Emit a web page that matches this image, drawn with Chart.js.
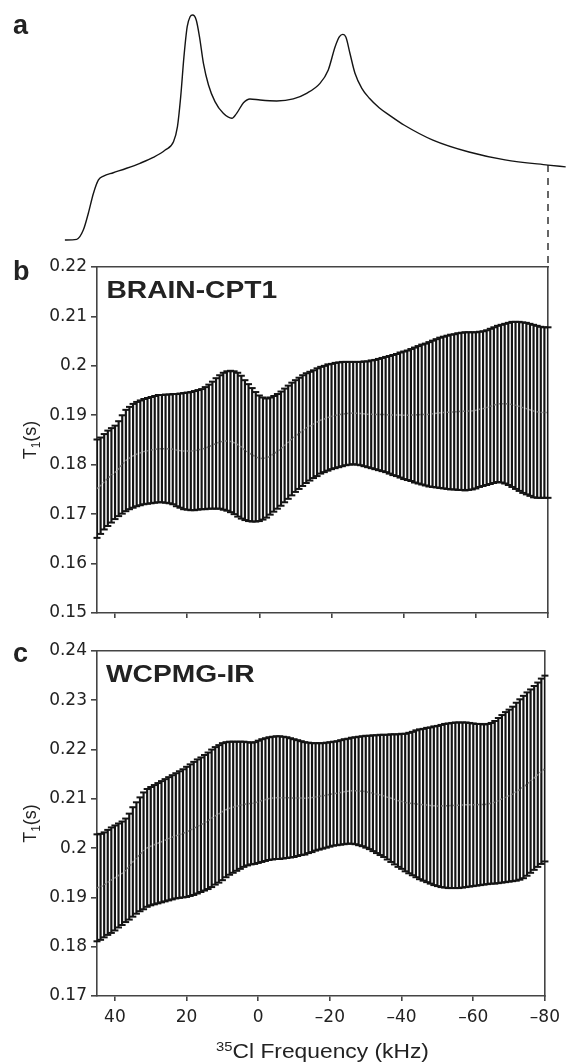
<!DOCTYPE html>
<html>
<head>
<meta charset="utf-8">
<script src="https://cdn.jsdelivr.net/npm/chart.js@4.4.1/dist/chart.umd.min.js"></script>
<style>
  body { margin: 0; background: #fff; }
  #wrap { position: relative; width: 566px; height: 1062px; overflow: hidden; }
  canvas { position: absolute; left: 0; }
</style>
</head>
<body>
<div id="wrap">
  <canvas id="specChart" width="566" height="267" style="top:0"></canvas>
  <canvas id="cptChart" width="566" height="380" style="top:250px"></canvas>
  <canvas id="irChart" width="566" height="429" style="top:633px"></canvas>
</div>
<script>
// 35Cl spectrum (kHz, normalised intensity)
const specKHz = [53.9, 50.6, 48.8, 47.4, 46.0, 44.6, 43.2, 40.5, 36.8, 33.1, 29.4, 26.1, 23.8, 22.7, 21.8,
  20.9, 20.0, 19.2, 18.5, 17.5, 16.6, 15.5, 14.1, 12.3, 10.0, 7.6, 6.3, 4.4, 2.6, -0.2, -4.8, -9.4, -13.1,
  -16.8, -19.1, -21.0, -22.2, -23.1, -24.0, -25.1, -26.5, -28.4, -30.5, -33.2, -36.2, -40.2, -48.1, -58.1,
  -68.1, -80, -84.9];
const specInt = [0, 0.003, 0.044, 0.119, 0.207, 0.267, 0.284, 0.299, 0.319, 0.341, 0.367, 0.400, 0.437, 0.504, 0.637,
  0.815, 0.948, 0.992, 1.000, 0.978, 0.904, 0.785, 0.689, 0.615, 0.563, 0.541, 0.563, 0.610, 0.627, 0.622, 0.618, 0.627, 0.652,
  0.696, 0.756, 0.859, 0.904, 0.914, 0.901, 0.830, 0.741, 0.674, 0.630, 0.588, 0.553, 0.510, 0.444, 0.391,
  0.356, 0.333, 0.325];

// offsets of the T1 fits (kHz)
const freq = [45, 44, 43, 42, 41, 40, 39, 38, 37, 36, 35, 34, 33, 32, 31, 30, 29, 28, 27, 26,
  25, 24, 23, 22, 21, 20, 19, 18, 17, 16, 15, 14, 13, 12, 11, 10, 9, 8, 7, 6,
  5, 4, 3, 2, 1, 0, -1, -2, -3, -4, -5, -6, -7, -8, -9, -10, -11, -12, -13, -14,
  -15, -16, -17, -18, -19, -20, -21, -22, -23, -24, -25, -26, -27, -28, -29, -30, -31, -32, -33, -34,
  -35, -36, -37, -38, -39, -40, -41, -42, -43, -44, -45, -46, -47, -48, -49, -50, -51, -52, -53, -54,
  -55, -56, -57, -58, -59, -60, -61, -62, -63, -64, -65, -66, -67, -68, -69, -70, -71, -72, -73, -74,
  -75, -76, -77, -78, -79, -80];

// BRAIN-CPT1: T1 lower / upper bounds (s)
const cptLower = [.1652, .1660, .1669, .1676, .1683, .1690, .1696, .1701, .1706, .1710,
  .1713, .1716, .1718, .1720, .1721, .1722, .1723, .1724, .1724, .1723,
  .1722, .1720, .1716, .1713, .1710, .1709, .1708, .1708, .1709, .1710,
  .1710, .1711, .1711, .1711, .1711, .1709, .1707, .1704, .1700, .1695,
  .1691, .1688, .1686, .1685, .1685, .1686, .1689, .1693, .1699, .1705,
  .1711, .1717, .1724, .1731, .1738, .1745, .1751, .1757, .1763, .1768,
  .1773, .1777, .1782, .1785, .1788, .1791, .1793, .1795, .1797, .1799,
  .1800, .1801, .1800, .1799, .1797, .1795, .1793, .1791, .1789, .1787,
  .1785, .1782, .1779, .1777, .1774, .1771, .1769, .1767, .1764, .1762,
  .1760, .1758, .1756, .1755, .1754, .1753, .1752, .1751, .1750, .1750,
  .1749, .1749, .1748, .1749, .1750, .1752, .1755, .1757, .1759, .1761,
  .1763, .1765, .1764, .1762, .1759, .1755, .1751, .1747, .1743, .1740,
  .1737, .1734, .1733, .1733, .1733, .1733];
const cptUpper = [.1851, .1855, .1862, .1869, .1874, .1879, .1888, .1900, .1911, .1917,
  .1923, .1927, .1930, .1933, .1935, .1937, .1939, .1941, .1941, .1942,
  .1942, .1943, .1943, .1944, .1945, .1946, .1947, .1949, .1951, .1953,
  .1957, .1962, .1968, .1975, .1981, .1986, .1989, .1990, .1989, .1986,
  .1980, .1971, .1963, .1955, .1947, .1940, .1936, .1934, .1936, .1939,
  .1943, .1948, .1954, .1960, .1966, .1971, .1976, .1981, .1985, .1988,
  .1991, .1995, .1998, .2000, .2003, .2004, .2006, .2007, .2008, .2008,
  .2008, .2008, .2008, .2008, .2009, .2009, .2011, .2012, .2014, .2016,
  .2018, .2020, .2022, .2024, .2027, .2029, .2031, .2034, .2037, .2040,
  .2043, .2045, .2048, .2051, .2054, .2057, .2059, .2061, .2063, .2064,
  .2066, .2067, .2068, .2068, .2068, .2068, .2069, .2070, .2072, .2075,
  .2078, .2081, .2083, .2085, .2087, .2089, .2089, .2089, .2088, .2087,
  .2085, .2083, .2081, .2079, .2078, .2078];

// WCPMG-IR: T1 lower / upper bounds (s)
const irLower = [.1811, .1814, .1819, .1824, .1828, .1833, .1839, .1844, .1850, .1855,
  .1861, .1867, .1872, .1876, .1881, .1884, .1886, .1888, .1890, .1892,
  .1894, .1896, .1898, .1899, .1900, .1901, .1903, .1905, .1908, .1911,
  .1914, .1917, .1921, .1926, .1930, .1935, .1941, .1946, .1950, .1954,
  .1958, .1962, .1965, .1967, .1968, .1970, .1972, .1974, .1976, .1977,
  .1978, .1978, .1979, .1980, .1981, .1982, .1984, .1986, .1987, .1990,
  .1992, .1995, .1997, .1999, .2001, .2003, .2005, .2006, .2007, .2008,
  .2009, .2009, .2008, .2006, .2004, .2001, .1998, .1994, .1990, .1986,
  .1982, .1977, .1972, .1967, .1962, .1958, .1953, .1949, .1945, .1941,
  .1937, .1934, .1931, .1928, .1925, .1923, .1921, .1920, .1919, .1919,
  .1919, .1919, .1920, .1921, .1922, .1923, .1924, .1925, .1926, .1927,
  .1928, .1928, .1929, .1930, .1931, .1932, .1933, .1934, .1936, .1939,
  .1944, .1950, .1956, .1962, .1968, .1973];
const irUpper = [.2028, .2029, .2032, .2037, .2042, .2046, .2050, .2054, .2060, .2070,
  .2083, .2093, .2103, .2113, .2120, .2124, .2128, .2132, .2136, .2140,
  .2144, .2148, .2152, .2156, .2160, .2165, .2170, .2175, .2180, .2184,
  .2189, .2194, .2200, .2205, .2209, .2213, .2215, .2216, .2216, .2216,
  .2216, .2216, .2215, .2214, .2215, .2218, .2221, .2223, .2225, .2226,
  .2227, .2227, .2226, .2225, .2223, .2221, .2219, .2217, .2215, .2214,
  .2213, .2213, .2213, .2213, .2214, .2215, .2216, .2217, .2219, .2221,
  .2222, .2224, .2225, .2226, .2227, .2228, .2228, .2229, .2229, .2230,
  .2230, .2230, .2231, .2231, .2231, .2232, .2232, .2234, .2236, .2239,
  .2241, .2242, .2244, .2245, .2247, .2248, .2250, .2252, .2253, .2254,
  .2255, .2255, .2255, .2255, .2254, .2253, .2252, .2252, .2251, .2252,
  .2254, .2258, .2264, .2270, .2276, .2281, .2287, .2295, .2302, .2309,
  .2316, .2322, .2329, .2336, .2344, .2350];

const cptTicks = [0.15, 0.22];
const irTicks = [0.17, 0.24];

// shared frame geometry
const W = 566;
const plotLeft = 97, plotRight = 548;
const freqMax = 45, freqMin = -80;
const ink = '#141414', axisCol = '#444', labelCol = '#222';
const sans = '"Liberation Sans", Arial, sans-serif';
const tickFont = { family: '"DejaVu Sans", sans-serif', size: 17 };

// draws free text (rich runs, optional rotation / horizontal stretch)
const textPlugin = {
  id: 'texts',
  afterDraw(chart, args, opts) {
    const ctx = chart.ctx;
    (opts.items || []).forEach(item => {
      ctx.save();
      ctx.translate(item.x, item.y);
      if (item.rotate) ctx.rotate(item.rotate);
      ctx.scale(item.sx || 1, 1);
      ctx.fillStyle = item.color || labelCol;
      ctx.textBaseline = 'alphabetic';
      ctx.textAlign = 'left';
      let w = 0;
      item.runs.forEach(r => { ctx.font = r.font; w += ctx.measureText(r.text).width; });
      let x = item.align === 'center' ? -w / 2 : 0;
      item.runs.forEach(r => {
        ctx.font = r.font;
        ctx.fillText(r.text, x, r.dy || 0);
        x += ctx.measureText(r.text).width;
      });
      ctx.restore();
    });
  }
};
Chart.register(textPlugin);

const letter = (t, x, y) => ({ x, y, runs: [{ text: t, font: 'bold 27px ' + sans }] });
const heading = (t, x, y) => ({ x, y, sx: 1.15, runs: [{ text: t, font: 'bold 24.5px ' + sans }] });
const t1Title = (y) => ({
  x: 36, y, rotate: -Math.PI / 2, align: 'center',
  runs: [{ text: 'T', font: '18px ' + sans }, { text: '1', font: '12px ' + sans, dy: 4 }, { text: '(s)', font: '18px ' + sans }]
});

// spectrum panel: x scale lined up with the T1 panels below
const pxPerKHz = (plotRight - plotLeft) / (freqMax - freqMin);
const specYMin = -0.12, specYMax = 1.0667;
const markY = specInt[specKHz.indexOf(freqMin)];

new Chart(document.getElementById('specChart'), {
  type: 'scatter',
  data: {
    datasets: [
      {
        data: specKHz.map((k, i) => ({ x: k, y: specInt[i] })),
        showLine: true, borderColor: ink, borderWidth: 1.4, pointRadius: 0,
        cubicInterpolationMode: 'monotone', clip: false
      },
      {
        data: [{ x: freqMin, y: markY }, { x: freqMin, y: specYMin }],
        showLine: true, borderColor: ink, borderWidth: 1.3, borderDash: [7, 6], pointRadius: 0, clip: false
      }
    ]
  },
  options: {
    responsive: false, animation: false, events: [], devicePixelRatio: 1,
    layout: { padding: 0 },
    plugins: { legend: { display: false }, tooltip: { enabled: false }, texts: { items: [letter('a', 13, 33.5)] } },
    scales: {
      x: { display: false, type: 'linear', reverse: true,
           min: freqMin - (W - plotRight) / pxPerKHz, max: freqMax + plotLeft / pxPerKHz },
      y: { display: false, min: specYMin, max: specYMax }
    }
  }
});

function fmtKHz(v) {
  return v < 0 ? '\u2013' + Math.abs(v) : String(v);
}

function t1Chart(id, lower, upper, yRange, cfg) {
  const mid = lower.map((v, i) => (v + upper[i]) / 2);
  const pts = arr => freq.map((f, i) => ({ x: f, y: arr[i] }));
  const frame = { color: axisCol, width: 1.6 };
  const cap = {
    type: 'line', showLine: false, pointStyle: 'line', pointRadius: 3.5,
    pointBorderWidth: 2, pointBorderColor: ink, pointBackgroundColor: ink, clip: false, order: 1
  };
  return new Chart(document.getElementById(id), {
    type: 'bar',
    data: {
      datasets: [
        { type: 'line', data: pts(mid), borderColor: '#7a7a7a', borderWidth: 1.5, borderDash: [2, 2],
          pointRadius: 0, order: 0 },
        Object.assign({ data: pts(upper) }, cap),
        Object.assign({ data: pts(lower) }, cap),
        { type: 'bar', data: freq.map((f, i) => ({ x: f, y: [lower[i], upper[i]] })),
          backgroundColor: ink, borderWidth: 0, barThickness: 1.5, order: 2 }
      ]
    },
    options: {
      responsive: false, animation: false, events: [], devicePixelRatio: 1,
      layout: { padding: { top: cfg.padTop, right: W - plotRight, bottom: 0, left: 0 } },
      plugins: { legend: { display: false }, tooltip: { enabled: false }, texts: { items: cfg.texts } },
      scales: {
        x: {
          type: 'linear', min: freqMin, max: freqMax, reverse: true, offset: false,
          grid: { offset: false, drawOnChartArea: false, drawTicks: true, tickLength: 5, color: axisCol, lineWidth: 1.6 },
          border: frame,
          ticks: { display: cfg.xLabels, stepSize: 20, includeBounds: false, autoSkip: false, maxRotation: 0,
                   font: tickFont, color: labelCol, padding: 6, callback: fmtKHz },
          afterFit: s => { s.height = cfg.xAxisH; }
        },
        y: {
          type: 'linear', min: yRange[0], max: yRange[1], beginAtZero: false,
          grid: { drawOnChartArea: false, drawTicks: true, tickLength: 6, color: axisCol, lineWidth: 1.6 },
          border: frame,
          ticks: { stepSize: 0.01, font: tickFont, color: labelCol, padding: 4,
                   callback: v => String(+v.toFixed(2)) },
          afterFit: s => { s.width = plotLeft; }
        },
        xTop: { type: 'linear', position: 'top', grid: { display: false }, ticks: { display: false },
                border: frame, afterFit: s => { s.height = 0; } },
        yRight: { type: 'linear', position: 'right', grid: { display: false }, ticks: { display: false },
                  border: frame, afterFit: s => { s.width = 0; } }
      }
    }
  });
}

t1Chart('cptChart', cptLower, cptUpper, cptTicks, {
  padTop: 17, xAxisH: 17, xLabels: false,
  texts: [letter('b', 13, 30), heading('BRAIN-CPT1', 106.5, 48.3), t1Title(190)]
});

t1Chart('irChart', irLower, irUpper, irTicks, {
  padTop: 18, xAxisH: 66, xLabels: true,
  texts: [
    letter('c', 13, 28.7), heading('WCPMG-IR', 106, 49.3), t1Title(190.5),
    { x: (plotLeft + plotRight) / 2, y: 425, sx: 1.14, align: 'center',
      runs: [{ text: '35', font: '13px ' + sans, dy: -7 }, { text: 'Cl Frequency (kHz)', font: '20px ' + sans }] }
  ]
});
</script>
</body>
</html>
